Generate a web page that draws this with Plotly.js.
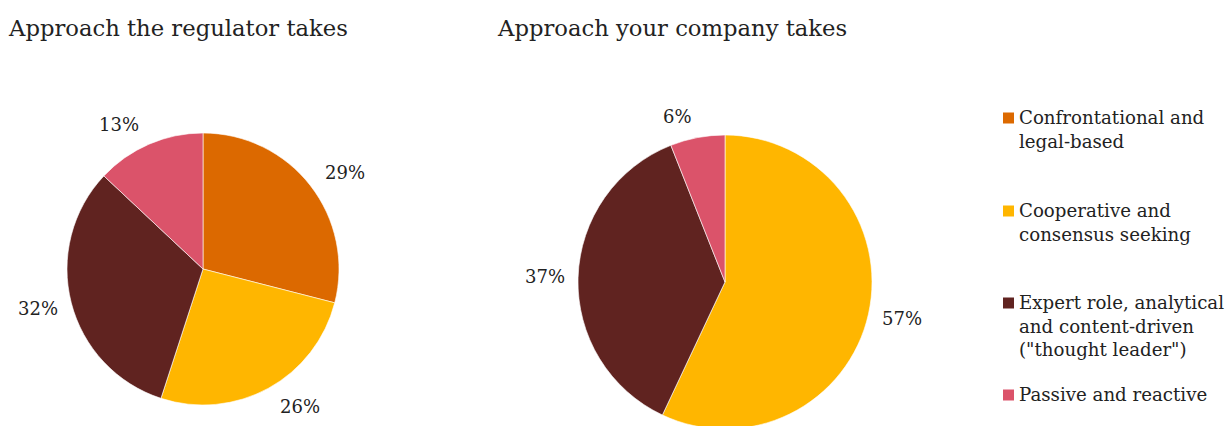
<!DOCTYPE html>
<html>
<head>
<meta charset="utf-8">
<script src="https://cdn.plot.ly/plotly-3.0.1.min.js"></script>
<style>
html,body{margin:0;padding:0;overflow:hidden;background:#fff;}
#chart{width:1228px;height:440px;}
</style>
</head>
<body>
<div id="chart"></div>
<script>
// ---- data ----
var categories = ['Confrontational and legal-based', 'Cooperative and consensus seeking', 'Expert role, analytical and content-driven ("thought leader")', 'Passive and reactive'];
var legendLines = ['Confrontational and<br>legal-based', 'Cooperative and<br>consensus seeking', 'Expert role, analytical<br>and content-driven<br>("thought leader")', 'Passive and reactive'];
var regulatorValues = [29, 26, 32, 13];
var companyValues = [0, 57, 37, 6];
var titles = ['Approach the regulator takes', 'Approach your company takes'];
var colors = ['#DC6900', '#FFB600', '#602320', '#DB536A'];

// ---- layout helpers ----
var W = 1228, H = 440;
function px(x){ return x / W; }
function py(y){ return (H - y) / H; }
var FONT = 'DejaVu Serif, serif';
var TXT = '#222222';

var pieBoxes = [
  {x0: 67, x1: 339, y0: 133, y1: 405},
  {x0: 578, x1: 872, y0: 135, y1: 429}
];

function pieTrace(values, box){
  return {
    type: 'pie',
    values: values,
    labels: categories,
    textinfo: 'none',
    sort: false,
    direction: 'clockwise',
    rotation: 0,
    marker: {colors: colors, line: {color: '#ffffff', width: 0.6}},
    showlegend: false,
    hoverinfo: 'label+percent',
    domain: {x: [px(box.x0), px(box.x1)], y: [py(box.y1), py(box.y0)]}
  };
}

var data = [
  pieTrace(regulatorValues, pieBoxes[0]),
  pieTrace(companyValues, pieBoxes[1])
];

var annotations = [
  {text: titles[0], x: px(6), y: py(28), xanchor: 'left', yanchor: 'middle'},
  {text: titles[1], x: px(495), y: py(28), xanchor: 'left', yanchor: 'middle'}
].map(function(a){
  a.xref = 'paper'; a.yref = 'paper'; a.showarrow = false;
  a.font = {family: FONT, size: 22.7, color: TXT};
  return a;
});

// percentage labels placed just outside each slice, at its middle angle
function addPieLabels(values, box){
  var cx = (box.x0 + box.x1) / 2, cy = (box.y0 + box.y1) / 2;
  var r = Math.min(box.x1 - box.x0, box.y1 - box.y0) / 2;
  var R = r + 21;
  var total = values.reduce(function(a, b){ return a + b; }, 0);
  var cum = 0;
  values.forEach(function(v){
    var mid = (cum + v / 2) / total * 2 * Math.PI;
    cum += v;
    if (!v) return;
    var s = Math.sin(mid), c = Math.cos(mid);
    var sgn = s >= 0 ? 1 : -1;
    annotations.push({
      text: Math.round(v / total * 100) + '%',
      x: px(cx + R * s), y: py(cy - R * c),
      xshift: -sgn * 10 * Math.pow(s, 4),
      xref: 'paper', yref: 'paper', showarrow: false,
      xanchor: sgn > 0 ? 'left' : 'right', yanchor: 'middle',
      font: {family: FONT, size: 18, color: TXT}
    });
  });
}
addPieLabels(regulatorValues, pieBoxes[0]);
addPieLabels(companyValues, pieBoxes[1]);

var legendCenters = [118, 211, 303, 395];
var shapes = [];
legendLines.forEach(function(t, i){
  annotations.push({
    text: t, x: px(1017), y: py(legendCenters[i] - 13.3), xref: 'paper', yref: 'paper',
    xanchor: 'left', yanchor: 'top', align: 'left', showarrow: false,
    font: {family: FONT, size: 18.2, color: TXT}
  });
  shapes.push({
    type: 'rect', xref: 'paper', yref: 'paper',
    x0: px(1003), x1: px(1014), y0: py(legendCenters[i] + 5.5), y1: py(legendCenters[i] - 5.5),
    fillcolor: colors[i], line: {width: 0}
  });
});

var layout = {
  width: W, height: H,
  margin: {l: 0, r: 0, t: 0, b: 0},
  paper_bgcolor: '#ffffff',
  showlegend: false,
  annotations: annotations,
  shapes: shapes,
  font: {family: FONT}
};

Plotly.newPlot('chart', data, layout, {displayModeBar: false, staticPlot: true});
</script>
</body>
</html>
